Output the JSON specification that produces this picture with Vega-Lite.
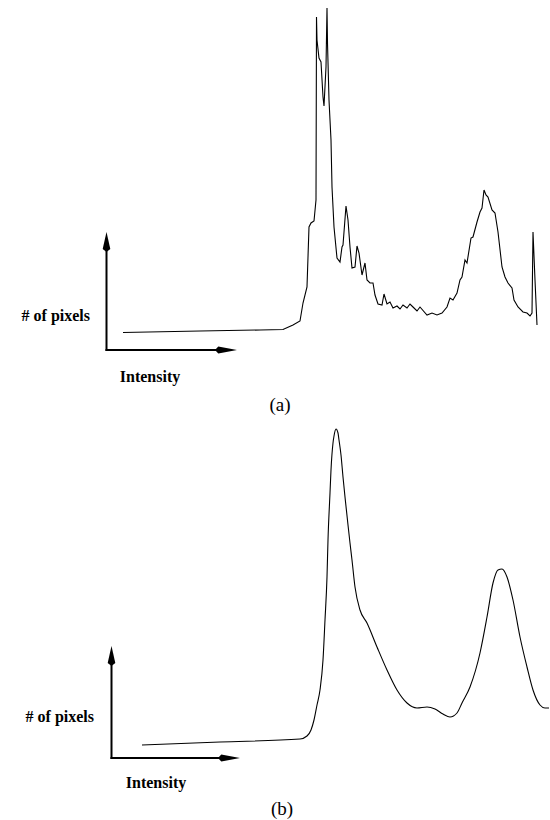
{
  "$schema": "https://vega.github.io/schema/vega-lite/v6.json",
  "padding": 0,
  "background": "white",
  "spacing": 0,
  "config": {"view": {"stroke": null}},
  "datasets": {
    "histA": [
      {"intensity": 123, "pixels": 87.5}, {"intensity": 200, "pixels": 89}, {"intensity": 260, "pixels": 90},
      {"intensity": 283, "pixels": 90.5}, {"intensity": 293, "pixels": 95}, {"intensity": 300, "pixels": 99},
      {"intensity": 303, "pixels": 117}, {"intensity": 307, "pixels": 133}, {"intensity": 309, "pixels": 193},
      {"intensity": 311, "pixels": 197}, {"intensity": 314, "pixels": 199}, {"intensity": 316, "pixels": 220},
      {"intensity": 316.5, "pixels": 403}, {"intensity": 317, "pixels": 380}, {"intensity": 319, "pixels": 362},
      {"intensity": 321, "pixels": 358}, {"intensity": 323, "pixels": 323}, {"intensity": 324, "pixels": 314},
      {"intensity": 326, "pixels": 353}, {"intensity": 327, "pixels": 412}, {"intensity": 327.5, "pixels": 377},
      {"intensity": 329, "pixels": 320}, {"intensity": 331, "pixels": 280}, {"intensity": 332, "pixels": 233},
      {"intensity": 334, "pixels": 193}, {"intensity": 337, "pixels": 162}, {"intensity": 340, "pixels": 158},
      {"intensity": 342, "pixels": 173}, {"intensity": 343, "pixels": 175}, {"intensity": 346, "pixels": 214},
      {"intensity": 348, "pixels": 200}, {"intensity": 350, "pixels": 173}, {"intensity": 352, "pixels": 152},
      {"intensity": 355, "pixels": 153}, {"intensity": 357, "pixels": 174}, {"intensity": 359, "pixels": 167},
      {"intensity": 362, "pixels": 145}, {"intensity": 364, "pixels": 153}, {"intensity": 365, "pixels": 157},
      {"intensity": 367, "pixels": 140}, {"intensity": 370, "pixels": 137}, {"intensity": 373, "pixels": 137},
      {"intensity": 375, "pixels": 125}, {"intensity": 378, "pixels": 116}, {"intensity": 382, "pixels": 115},
      {"intensity": 384, "pixels": 126}, {"intensity": 387, "pixels": 116}, {"intensity": 390, "pixels": 118},
      {"intensity": 393, "pixels": 112}, {"intensity": 397, "pixels": 114}, {"intensity": 400, "pixels": 111},
      {"intensity": 403, "pixels": 115}, {"intensity": 407, "pixels": 112}, {"intensity": 410, "pixels": 116},
      {"intensity": 413, "pixels": 113}, {"intensity": 417, "pixels": 109}, {"intensity": 420, "pixels": 113},
      {"intensity": 427, "pixels": 105}, {"intensity": 432, "pixels": 107}, {"intensity": 437, "pixels": 105},
      {"intensity": 442, "pixels": 107}, {"intensity": 447, "pixels": 113}, {"intensity": 450, "pixels": 122},
      {"intensity": 453, "pixels": 120}, {"intensity": 457, "pixels": 127}, {"intensity": 460, "pixels": 140},
      {"intensity": 462, "pixels": 143}, {"intensity": 465, "pixels": 160}, {"intensity": 467, "pixels": 157},
      {"intensity": 471, "pixels": 182}, {"intensity": 473, "pixels": 183}, {"intensity": 477, "pixels": 198},
      {"intensity": 480, "pixels": 208}, {"intensity": 482, "pixels": 212}, {"intensity": 484, "pixels": 230},
      {"intensity": 486, "pixels": 225}, {"intensity": 488, "pixels": 223}, {"intensity": 492, "pixels": 210},
      {"intensity": 495, "pixels": 207}, {"intensity": 498, "pixels": 188}, {"intensity": 502, "pixels": 153},
      {"intensity": 505, "pixels": 143}, {"intensity": 508, "pixels": 137}, {"intensity": 512, "pixels": 132},
      {"intensity": 514, "pixels": 120}, {"intensity": 518, "pixels": 113}, {"intensity": 523, "pixels": 108},
      {"intensity": 527, "pixels": 107}, {"intensity": 530, "pixels": 104}, {"intensity": 532, "pixels": 107},
      {"intensity": 533, "pixels": 188}, {"intensity": 535, "pixels": 140}, {"intensity": 537, "pixels": 95}
    ],
    "histB": [
      {"intensity": 142, "pixels": 75}, {"intensity": 220, "pixels": 78}, {"intensity": 300, "pixels": 81},
      {"intensity": 307, "pixels": 84}, {"intensity": 311, "pixels": 90}, {"intensity": 314, "pixels": 100},
      {"intensity": 317, "pixels": 115}, {"intensity": 320, "pixels": 130}, {"intensity": 323, "pixels": 160},
      {"intensity": 325, "pixels": 200}, {"intensity": 327, "pixels": 243}, {"intensity": 328, "pixels": 280},
      {"intensity": 330, "pixels": 327}, {"intensity": 331, "pixels": 350}, {"intensity": 333, "pixels": 377},
      {"intensity": 334, "pixels": 384}, {"intensity": 336, "pixels": 391}, {"intensity": 338, "pixels": 387},
      {"intensity": 339, "pixels": 380}, {"intensity": 341, "pixels": 365}, {"intensity": 343, "pixels": 343},
      {"intensity": 345, "pixels": 323}, {"intensity": 348, "pixels": 295}, {"intensity": 350, "pixels": 277},
      {"intensity": 352, "pixels": 260}, {"intensity": 355, "pixels": 233}, {"intensity": 360, "pixels": 210},
      {"intensity": 367, "pixels": 197}, {"intensity": 377, "pixels": 173}, {"intensity": 387, "pixels": 150},
      {"intensity": 397, "pixels": 130}, {"intensity": 407, "pixels": 117}, {"intensity": 417, "pixels": 112},
      {"intensity": 427, "pixels": 113}, {"intensity": 435, "pixels": 111}, {"intensity": 443, "pixels": 106},
      {"intensity": 450, "pixels": 103}, {"intensity": 457, "pixels": 107}, {"intensity": 462, "pixels": 117},
      {"intensity": 470, "pixels": 133}, {"intensity": 480, "pixels": 167}, {"intensity": 487, "pixels": 203},
      {"intensity": 493, "pixels": 237}, {"intensity": 498, "pixels": 250}, {"intensity": 502, "pixels": 251},
      {"intensity": 507, "pixels": 243}, {"intensity": 513, "pixels": 220}, {"intensity": 520, "pixels": 183},
      {"intensity": 527, "pixels": 153}, {"intensity": 533, "pixels": 130}, {"intensity": 540, "pixels": 115},
      {"intensity": 545, "pixels": 112}, {"intensity": 549, "pixels": 112}
    ]
  },
  "vconcat": [
    {
      "width": 550,
      "height": 420,
      "layer": [
        {
          "data": {"name": "histA"},
          "mark": {"type": "line", "stroke": "black", "strokeWidth": 1.1, "interpolate": "linear"},
          "encoding": {
            "x": {"field": "intensity", "type": "quantitative", "scale": {"domain": [0, 550], "nice": false, "zero": false}, "axis": null},
            "y": {"field": "pixels", "type": "quantitative", "scale": {"domain": [0, 420], "nice": false, "zero": false}, "axis": null}
          }
        },
        {
          "data": {"values": [{}]},
          "mark": {"type": "rule", "stroke": "black", "strokeWidth": 2, "strokeCap": "square"},
          "encoding": {"x": {"datum": 106.5, "type": "quantitative"}, "y": {"datum": 70, "type": "quantitative"}, "y2": {"datum": 180}}
        },
        {
          "data": {"values": [{}]},
          "mark": {"type": "rule", "stroke": "black", "strokeWidth": 2, "strokeCap": "square"},
          "encoding": {"x": {"datum": 106.5, "type": "quantitative"}, "x2": {"datum": 224}, "y": {"datum": 70, "type": "quantitative"}}
        },
        {
          "data": {"values": [{}]},
          "mark": {"type": "point", "shape": "M0,-1L0.38,0.7L0,1L-0.38,0.7Z", "filled": true, "color": "black", "opacity": 1, "size": 400, "strokeWidth": 0},
          "encoding": {"x": {"datum": 106.5, "type": "quantitative"}, "y": {"datum": 178, "type": "quantitative"}}
        },
        {
          "data": {"values": [{}]},
          "mark": {"type": "point", "shape": "M1,0L-0.7,0.32L-1,0L-0.7,-0.32Z", "filled": true, "color": "black", "opacity": 1, "size": 484, "strokeWidth": 0},
          "encoding": {"x": {"datum": 226, "type": "quantitative"}, "y": {"datum": 70, "type": "quantitative"}}
        },
        {
          "data": {"values": [{}]},
          "mark": {"type": "text", "text": "# of pixels", "align": "right", "baseline": "middle", "font": "Liberation Serif", "fontWeight": "bold", "fontSize": 16, "color": "black"},
          "encoding": {"x": {"datum": 90, "type": "quantitative"}, "y": {"datum": 104, "type": "quantitative"}}
        },
        {
          "data": {"values": [{}]},
          "mark": {"type": "text", "text": "Intensity", "align": "center", "baseline": "middle", "font": "Liberation Serif", "fontWeight": "bold", "fontSize": 16, "color": "black"},
          "encoding": {"x": {"datum": 150, "type": "quantitative"}, "y": {"datum": 43, "type": "quantitative"}}
        },
        {
          "data": {"values": [{}]},
          "mark": {"type": "text", "text": "(a)", "align": "center", "baseline": "middle", "font": "Liberation Serif", "fontSize": 19, "color": "black"},
          "encoding": {"x": {"datum": 280, "type": "quantitative"}, "y": {"datum": 15, "type": "quantitative"}}
        }
      ]
    },
    {
      "width": 550,
      "height": 400,
      "layer": [
        {
          "data": {"name": "histB"},
          "mark": {"type": "line", "stroke": "black", "strokeWidth": 1.1, "interpolate": "monotone"},
          "encoding": {
            "x": {"field": "intensity", "type": "quantitative", "scale": {"domain": [0, 550], "nice": false, "zero": false}, "axis": null},
            "y": {"field": "pixels", "type": "quantitative", "scale": {"domain": [0, 400], "nice": false, "zero": false}, "axis": null}
          }
        },
        {
          "data": {"values": [{}]},
          "mark": {"type": "rule", "stroke": "black", "strokeWidth": 2, "strokeCap": "square"},
          "encoding": {"x": {"datum": 111.5, "type": "quantitative"}, "y": {"datum": 62, "type": "quantitative"}, "y2": {"datum": 166}}
        },
        {
          "data": {"values": [{}]},
          "mark": {"type": "rule", "stroke": "black", "strokeWidth": 2, "strokeCap": "square"},
          "encoding": {"x": {"datum": 111.5, "type": "quantitative"}, "x2": {"datum": 227}, "y": {"datum": 62, "type": "quantitative"}}
        },
        {
          "data": {"values": [{}]},
          "mark": {"type": "point", "shape": "M0,-1L0.38,0.7L0,1L-0.38,0.7Z", "filled": true, "color": "black", "opacity": 1, "size": 400, "strokeWidth": 0},
          "encoding": {"x": {"datum": 111.5, "type": "quantitative"}, "y": {"datum": 164, "type": "quantitative"}}
        },
        {
          "data": {"values": [{}]},
          "mark": {"type": "point", "shape": "M1,0L-0.7,0.32L-1,0L-0.7,-0.32Z", "filled": true, "color": "black", "opacity": 1, "size": 484, "strokeWidth": 0},
          "encoding": {"x": {"datum": 229, "type": "quantitative"}, "y": {"datum": 62, "type": "quantitative"}}
        },
        {
          "data": {"values": [{}]},
          "mark": {"type": "text", "text": "# of pixels", "align": "right", "baseline": "middle", "font": "Liberation Serif", "fontWeight": "bold", "fontSize": 16, "color": "black"},
          "encoding": {"x": {"datum": 94, "type": "quantitative"}, "y": {"datum": 103, "type": "quantitative"}}
        },
        {
          "data": {"values": [{}]},
          "mark": {"type": "text", "text": "Intensity", "align": "center", "baseline": "middle", "font": "Liberation Serif", "fontWeight": "bold", "fontSize": 16, "color": "black"},
          "encoding": {"x": {"datum": 156, "type": "quantitative"}, "y": {"datum": 37, "type": "quantitative"}}
        },
        {
          "data": {"values": [{}]},
          "mark": {"type": "text", "text": "(b)", "align": "center", "baseline": "middle", "font": "Liberation Serif", "fontSize": 19, "color": "black"},
          "encoding": {"x": {"datum": 282, "type": "quantitative"}, "y": {"datum": 11, "type": "quantitative"}}
        }
      ]
    }
  ]
}
